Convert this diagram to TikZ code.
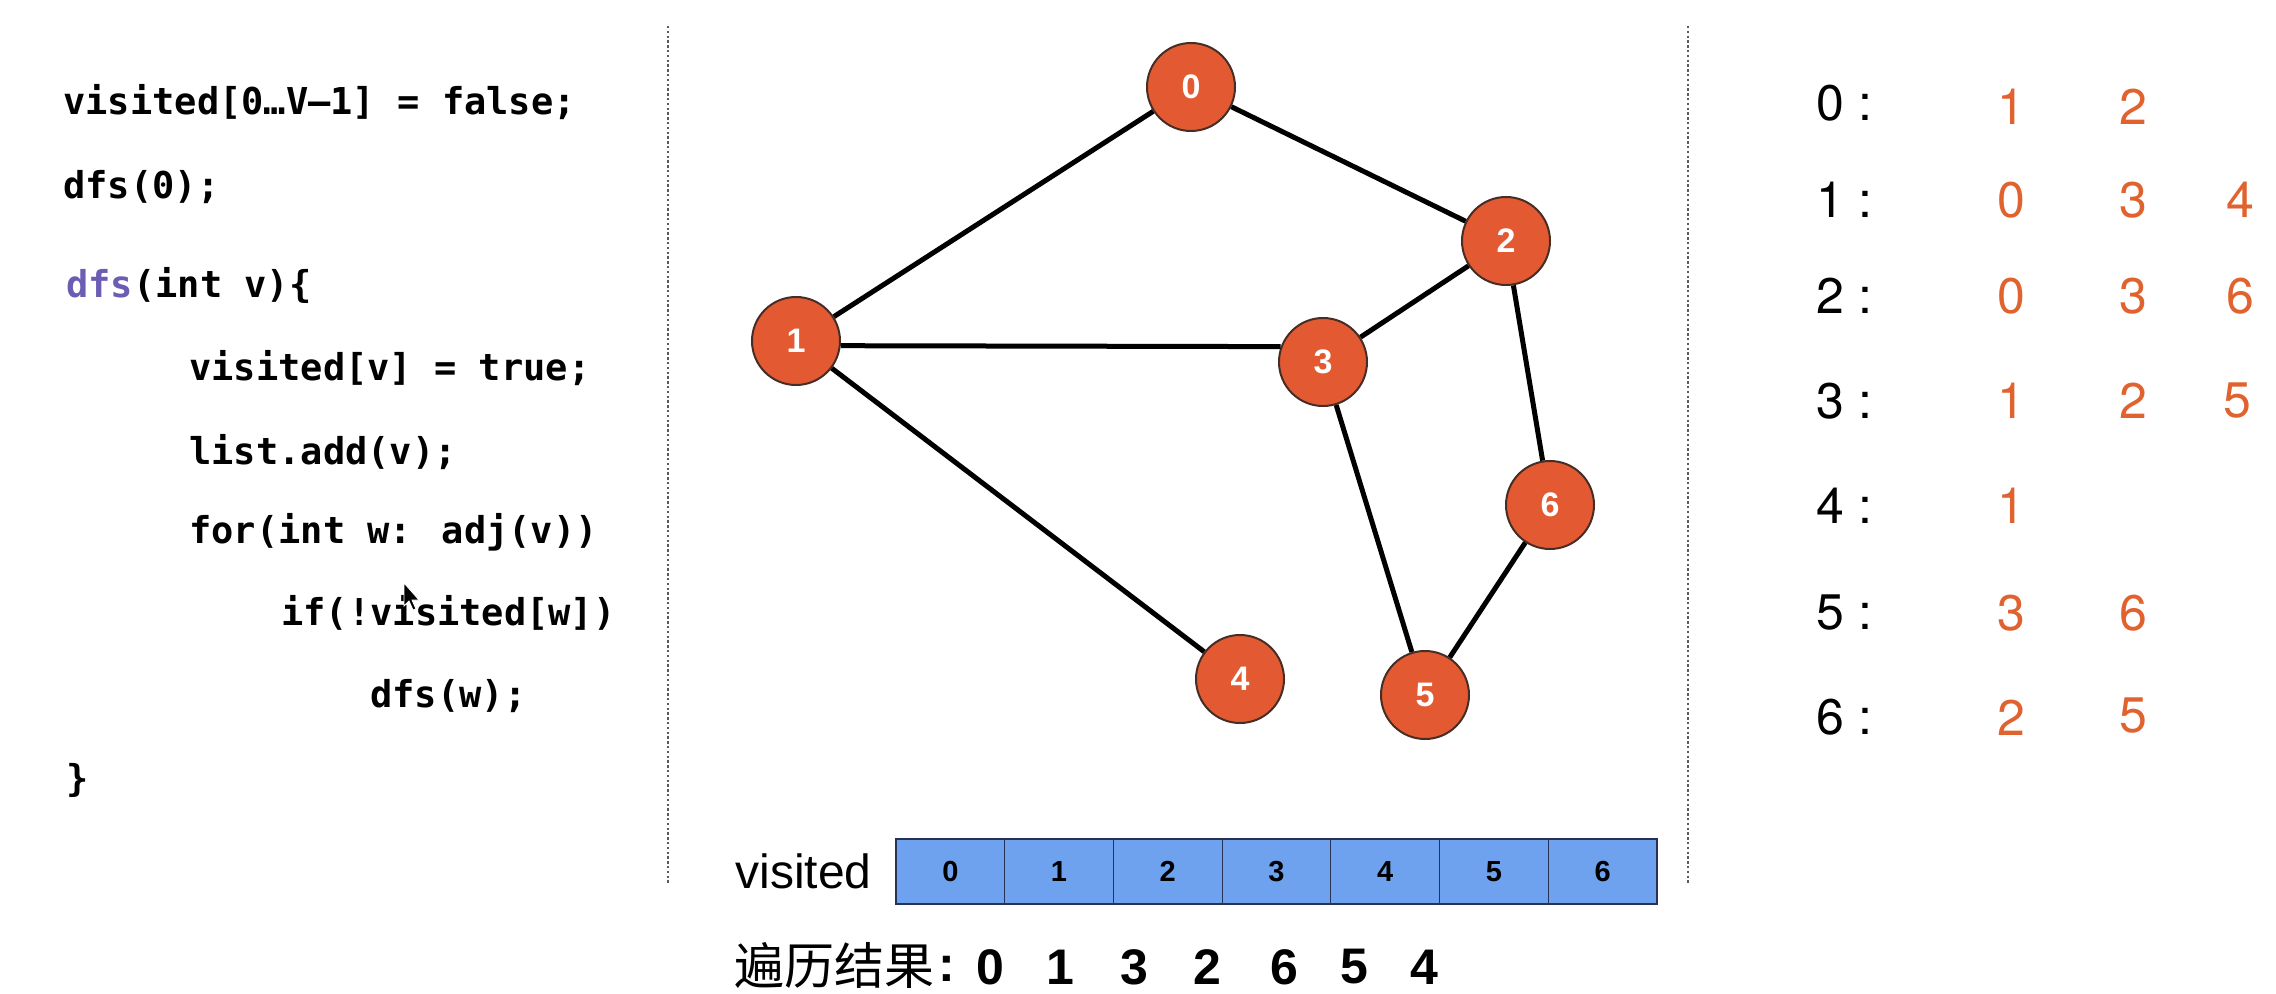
\documentclass[tikz,border=0pt]{standalone}
\usepackage{fontspec}
\setmainfont{Liberation Sans}
\newfontfamily\codefont{DejaVu Sans Mono}
\newfontfamily\cjk{Noto Sans CJK SC}
\newfontfamily\adjfont{TeX Gyre Heros}
\definecolor{nodeor}{RGB}{227,90,50}
\definecolor{nodeline}{RGB}{70,45,38}
\definecolor{adjor}{RGB}{224,98,47}
\definecolor{cellblue}{RGB}{110,162,238}
\definecolor{cellline}{RGB}{40,50,85}
\definecolor{kwpurple}{RGB}{108,92,180}
\definecolor{sepgray}{RGB}{90,90,90}
\tikzset{
  codeline/.style={anchor=mid west, inner sep=0pt, font=\codefont\bfseries\fontsize{18.5}{18.5}\selectfont},
  gnode/.style={circle, fill=nodeor, draw=nodeline, line width=1pt, minimum size=44pt, inner sep=0pt,
    text=white, font=\bfseries\fontsize{17}{17}\selectfont},
  gedge/.style={line width=2.5pt, black},
  sepline/.style={draw=sepgray, line width=0.9pt, dash pattern=on 1.2pt off 1.2pt},
  cellbox/.style={rectangle, fill=cellblue, draw=cellline, line width=0.6pt, minimum width=54.35pt,
    minimum height=32.5pt, inner sep=0pt, font=\bfseries\fontsize{14.5}{14.5}\selectfont},
  adjlabel/.style={anchor=west, inner sep=0pt, font=\adjfont\fontsize{25}{25}\selectfont},
  adjitem/.style={inner sep=0pt, text=adjor, font=\adjfont\fontsize{25}{25}\selectfont},
  resdigit/.style={inner sep=0pt, font=\bfseries\fontsize{25}{25}\selectfont},
}
\begin{document}
\begin{tikzpicture}[x=0.5pt,y=-0.5pt]
\useasboundingbox[fill=white] (0,0) rectangle (2276,994);

% code
\node[codeline] (l1) at (63,109) {visited[0…V–1] = false;};
\node[codeline] (l2) at (63,193) {dfs(0);};
\node[codeline] (l3) at (66,292) {\textcolor{kwpurple}{dfs}(int v)\{};
\node[codeline] (l4) at (189,375) {visited[v] = true;};
\node[codeline] (l5) at (189,459) {list.add(v);};
\node[codeline] (l6) at (189,538) {for(int w: adj(v))};
\node[codeline] (l7) at (281,620) {if(!visited[w])};
\node[codeline] (l8) at (370,702) {dfs(w);};
\node[codeline] (l9) at (66,786) {\}};

% mouse cursor
\draw[fill=black, draw=white, line width=0.4pt]
  (404,583) -- (404,606) -- (409,601) -- (413,610) -- (416,609) -- (412,600) -- (419,600) -- cycle;

% separators
\coordinate (s1t) at (668,26);
\coordinate (s1b) at (668,885);
\coordinate (s2t) at (1688,26);
\coordinate (s2b) at (1688,885);
\draw[sepline] (s1t) -- (s1b);
\draw[sepline] (s2t) -- (s2b);

% graph
\node[gnode] (n0) at (1191,87) {0};
\node[gnode] (n1) at (796,341) {1};
\node[gnode] (n2) at (1506,241) {2};
\node[gnode] (n3) at (1323,362) {3};
\node[gnode] (n6) at (1550,505) {6};
\node[gnode] (n4) at (1240,679) {4};
\node[gnode] (n5) at (1425,695) {5};
\draw[gedge] (n0) -- (n1);
\draw[gedge] (n0) -- (n2);
\draw[gedge] (n1.-6) -- (n3.160);
\draw[gedge] (n1) -- (n4);
\draw[gedge] (n2) -- (n3);
\draw[gedge] (n2) -- (n6);
\draw[gedge] (n3) -- (n5);
\draw[gedge] (n5) -- (n6);

% visited array
\node[anchor=west, inner sep=0pt, font=\fontsize{24}{24}\selectfont] (vislabel) at (735,871) {visited};
\foreach \i in {0,...,6} {
  \node[cellbox] (c\i) at ({896+108.7*(\i+0.5)},871.5) {\i};
}

% traversal result
\node[anchor=west, inner sep=0pt, font=\cjk\fontsize{25}{25}\selectfont] (reslabel) at (734,965) {遍历结果};
\node[inner sep=0pt, font=\bfseries\fontsize{25}{25}\selectfont] (rescolon) at (947,969) {:};
\foreach \d/\x [count=\k] in {0/990,1/1060,3/1134,2/1207,6/1284,5/1354,4/1424} {
  \node[resdigit] (r\k) at (\x,967) {\d};
}

% adjacency lists
\foreach \r/\y in {0/103,1/200,2/296,3/401,4/506,5/613,6/717} {
  \node[adjlabel] (a\r) at (1816,\y) {\r\hspace{7pt}:};
}
\node[adjitem] (a0x1) at (2011,107) {1};
\node[adjitem] (a0x2) at (2133,107) {2};
\node[adjitem] (a1x1) at (2011,200) {0};
\node[adjitem] (a1x2) at (2133,200) {3};
\node[adjitem] (a1x3) at (2240,200) {4};
\node[adjitem] (a2x1) at (2011,296) {0};
\node[adjitem] (a2x2) at (2133,296) {3};
\node[adjitem] (a2x3) at (2240,296) {6};
\node[adjitem] (a3x1) at (2011,401) {1};
\node[adjitem] (a3x2) at (2133,401) {2};
\node[adjitem] (a3x3) at (2237,401) {5};
\node[adjitem] (a4x1) at (2011,506) {1};
\node[adjitem] (a5x1) at (2011,613) {3};
\node[adjitem] (a5x2) at (2133,613) {6};
\node[adjitem] (a6x1) at (2011,718) {2};
\node[adjitem] (a6x2) at (2133,716) {5};
\end{tikzpicture}
\end{document}
